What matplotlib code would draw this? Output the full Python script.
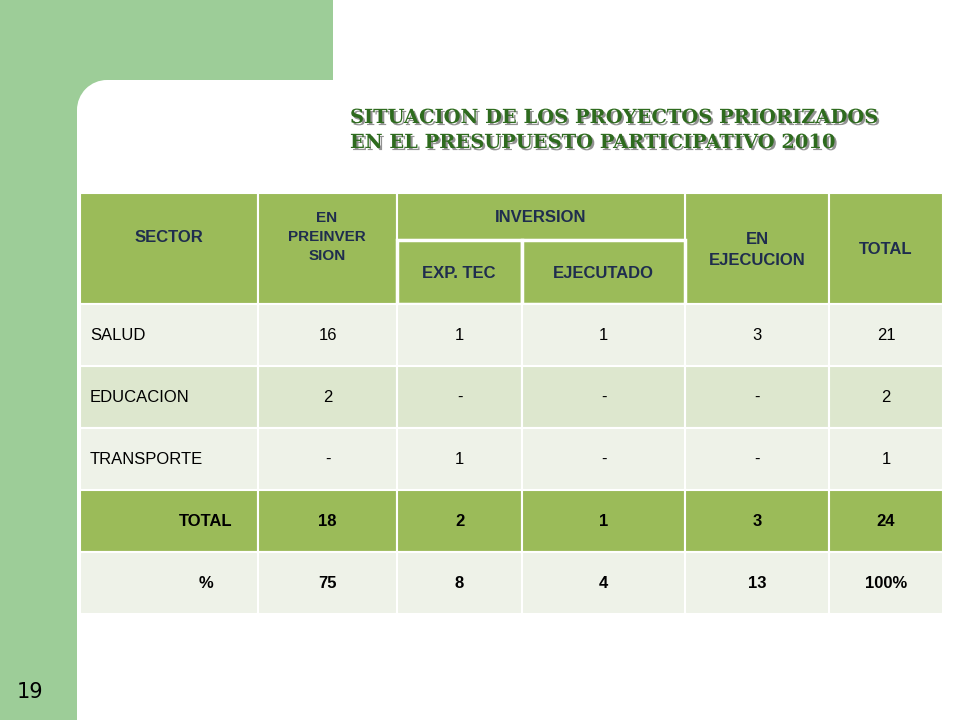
import matplotlib
matplotlib.use("Agg")
import matplotlib.pyplot as plt
from matplotlib.patches import Rectangle, Circle
import matplotlib.patheffects as pe

title_lines = ["SITUACION DE LOS PROYECTOS PRIORIZADOS", "EN EL PRESUPUESTO PARTICIPATIVO 2010"]
sectors = ["SALUD", "EDUCACION", "TRANSPORTE"]
preinversion = ["16", "2", "-"]
exp_tec = ["1", "-", "1"]
ejecutado = ["1", "-", "-"]
en_ejecucion = ["3", "-", "-"]
total = ["21", "2", "1"]
total_row = ["TOTAL", "18", "2", "1", "3", "24"]
pct_row = ["%", "75", "8", "4", "13", "100%"]
page = "19"

fig = plt.figure(figsize=(9.6, 7.2), dpi=100)
ax = fig.add_axes([0, 0, 1, 1])
ax.set_xlim(0, 960); ax.set_ylim(720, 0); ax.axis("off")
band = "#9DCD98"
ax.add_patch(Rectangle((0, 0), 77, 720, color=band, lw=0))
ax.add_patch(Rectangle((0, 0), 333, 80, color=band, lw=0))
ax.add_patch(Rectangle((77, 80), 30, 30, color=band, lw=0))
ax.add_patch(Circle((107, 110), 30, color="white", lw=0))
ax.text(30, 692, page, fontsize=15, ha="center", va="center", color="black")

for i, t in enumerate(title_lines):
    y = 118 + i * 25
    ax.text(350, y, t, fontsize=14, fontweight="bold", family="DejaVu Serif", color="#2E6B1E", va="center",
            path_effects=[pe.withSimplePatchShadow(offset=(1.5, -1.5), shadow_rgbFace="#777777", alpha=0.8)])

cols = [80, 258, 397, 522, 685, 829, 943]
hdr = "#9BBB59"; light = "#EEF2E8"; mid = "#DDE7CE"; hc = "#1F2D4E"
def cell(x0, x1, y0, y1, c):
    ax.add_patch(Rectangle((x0, y0), x1 - x0, y1 - y0, facecolor=c, edgecolor="white", lw=1.5))
def txt(x, y, s, bold=False, color="black", ha="center", size=12):
    ax.text(x, y, s, ha=ha, va="center", fontsize=size, fontweight="bold" if bold else "normal", color=color, family="Liberation Sans", linespacing=1.5)

for x0, x1 in [(80, 258), (258, 397), (685, 829), (829, 943)]:
    cell(x0, x1, 193, 304, hdr)
cell(397, 685, 193, 240, hdr)
ax.add_patch(Rectangle((397, 240), 125, 64, facecolor=hdr, edgecolor="white", lw=2.5))
ax.add_patch(Rectangle((522, 240), 163, 64, facecolor=hdr, edgecolor="white", lw=2.5))
txt(169, 238, "SECTOR", True, hc)
txt(327, 237, "EN\nPREINVER\nSION", True, hc, size=11)
txt(541, 217, "INVERSION", True, hc)
txt(459, 273, "EXP. TEC", True, hc)
txt(603, 273, "EJECUTADO", True, hc)
txt(757, 250, "EN\nEJECUCION", True, hc)
txt(886, 250, "TOTAL", True, hc)

rows = list(zip(sectors, preinversion, exp_tec, ejecutado, en_ejecucion, total))
bgs = [light, mid, light]
y = 304; h = 62
for r, bg in zip(rows, bgs):
    for j in range(6):
        cell(cols[j], cols[j + 1], y, y + h, bg)
        if j == 0:
            txt(cols[0] + 10, y + h / 2, r[j], ha="left")
        else:
            txt((cols[j] + cols[j + 1]) / 2, y + h / 2, r[j])
    y += h
for r, bg in [(total_row, hdr), (pct_row, light)]:
    for j in range(6):
        cell(cols[j], cols[j + 1], y, y + h, bg)
        xx = cols[1] - 52 if j == 0 else (cols[j] + cols[j + 1]) / 2
        txt(xx, y + h / 2, r[j], True)
    y += h

fig.savefig("out.png", dpi=100)
